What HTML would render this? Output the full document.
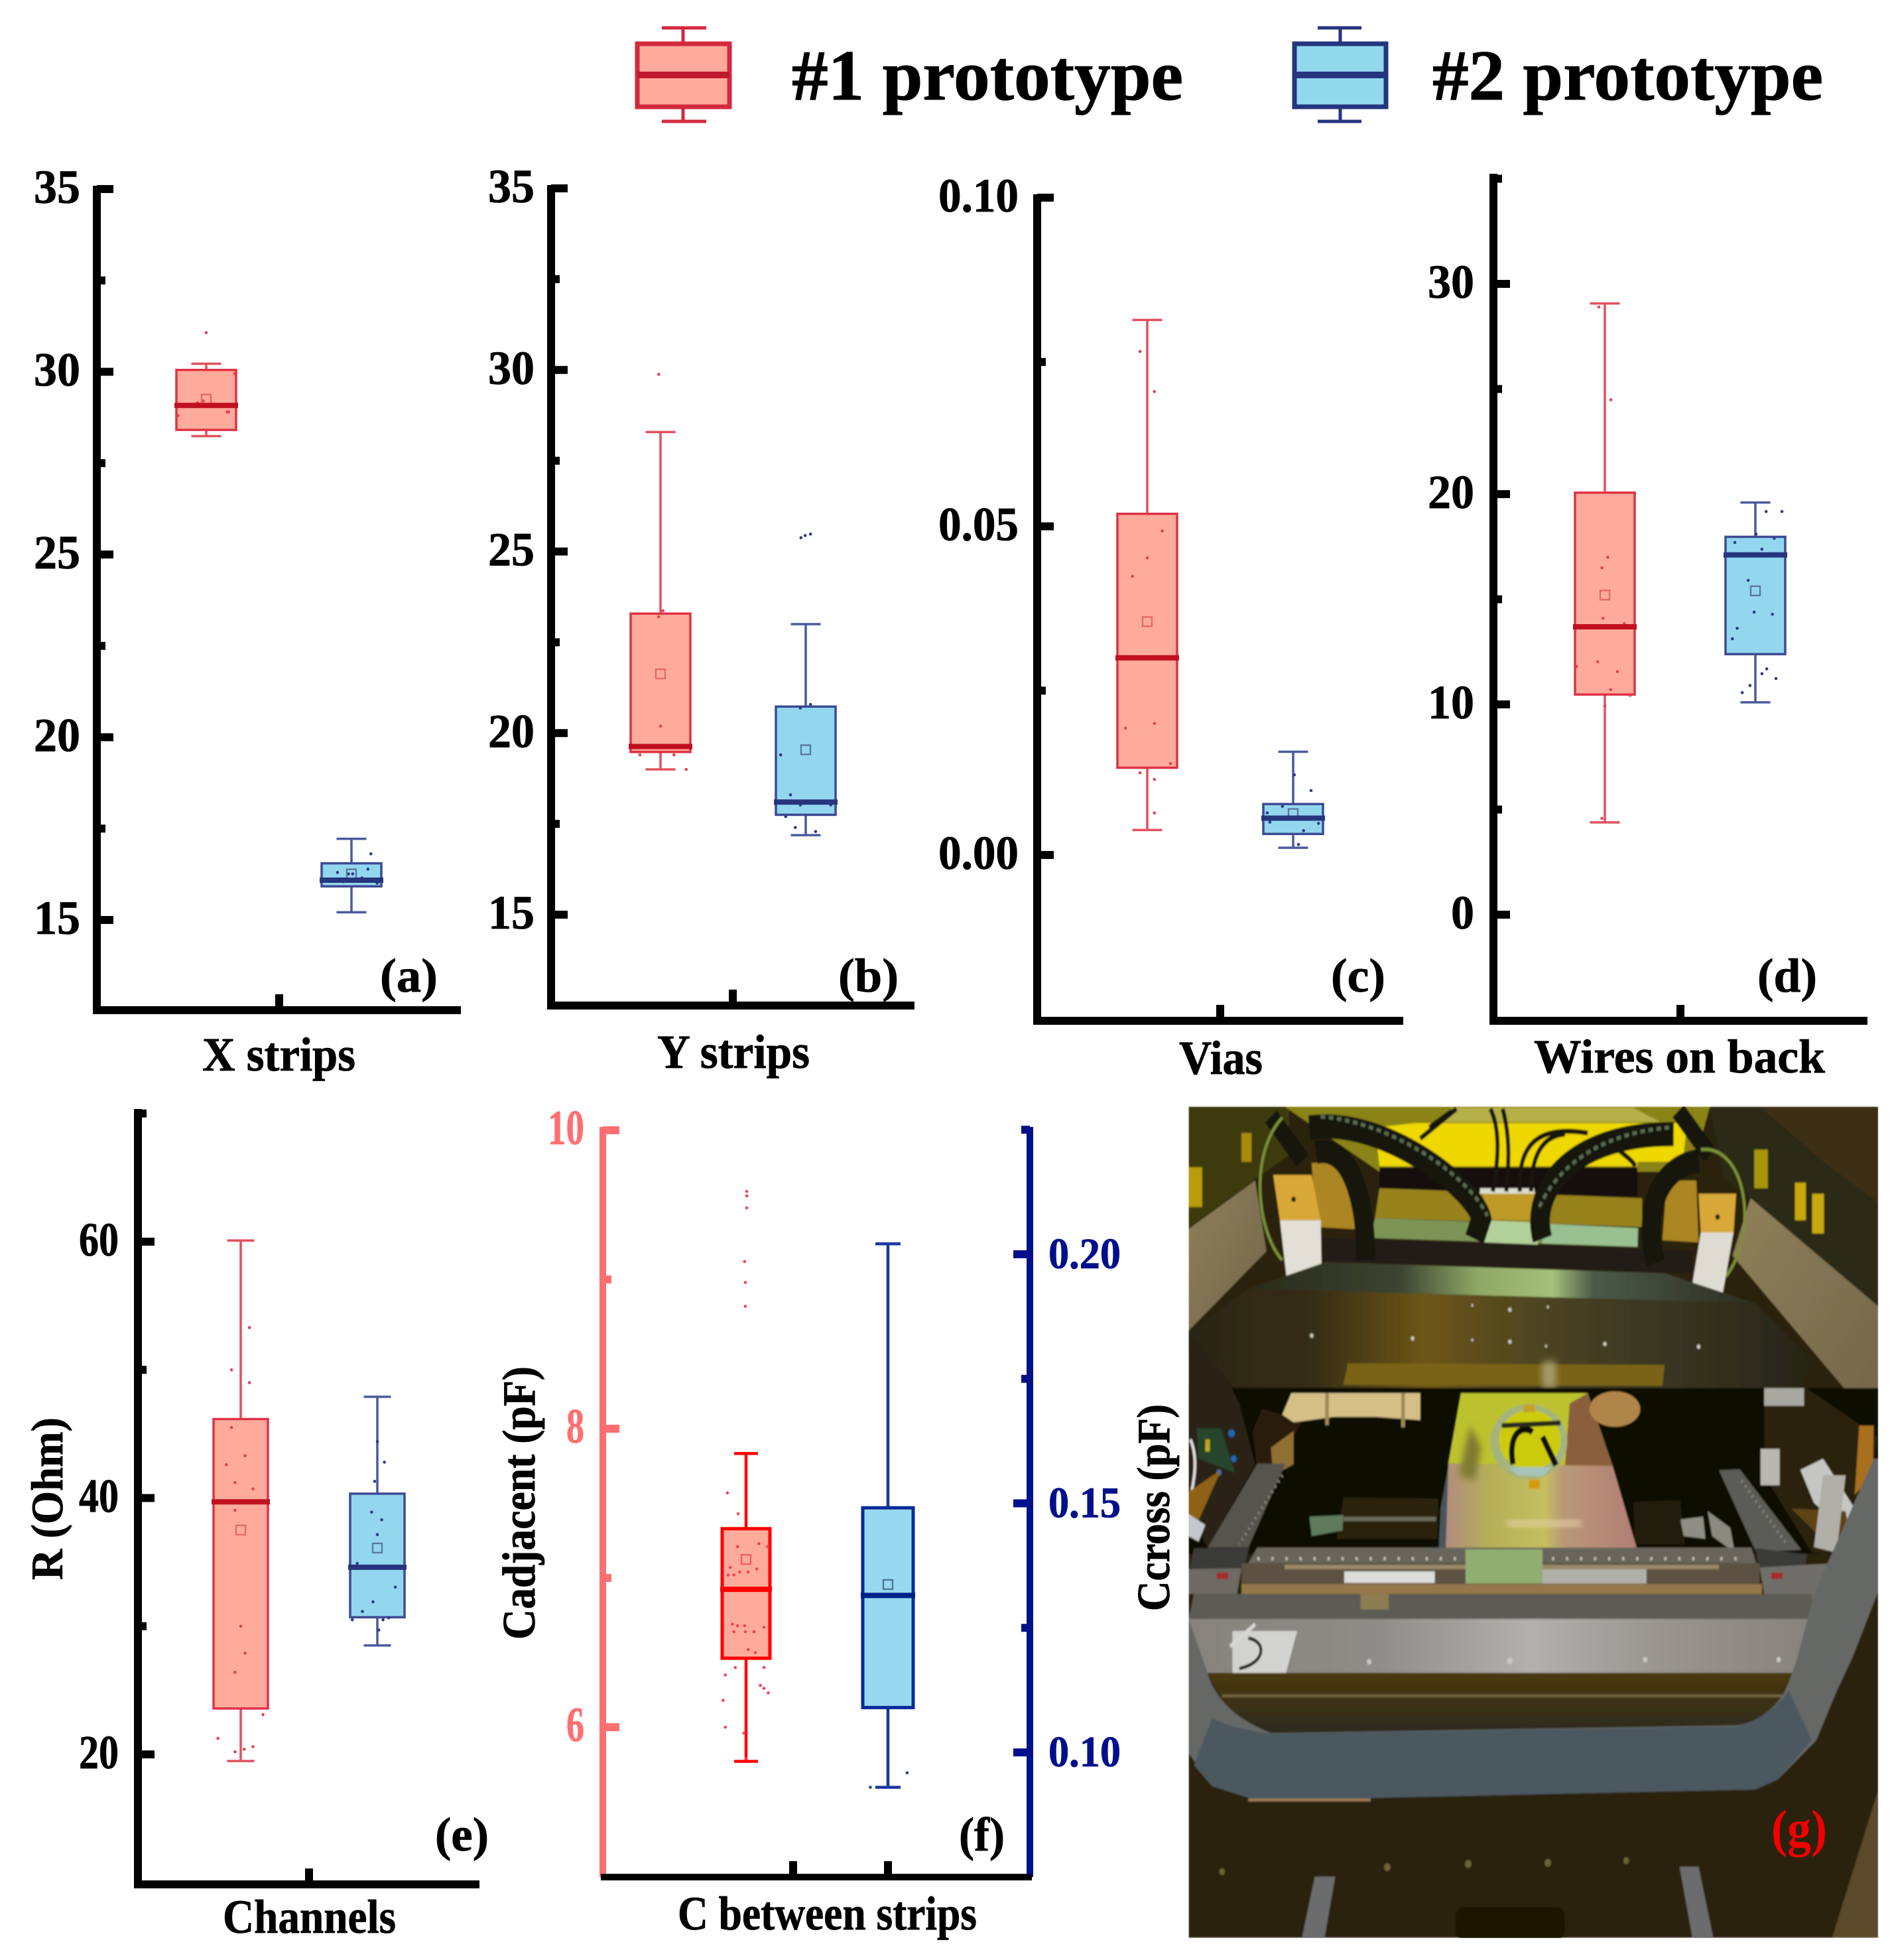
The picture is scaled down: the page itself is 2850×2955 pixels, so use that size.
<!DOCTYPE html>
<html lang="en"><head><meta charset="utf-8"><title>Prototype measurements</title>
<style>html,body{margin:0;padding:0;background:#fff}svg{display:block}text{font-family:"Liberation Serif",serif;font-weight:bold}</style></head>
<body>
<svg id="figure" xmlns="http://www.w3.org/2000/svg" width="2850" height="2955" viewBox="0 0 2850 2955">
<defs>
<filter id="soft" x="-5%" y="-5%" width="110%" height="110%"><feGaussianBlur stdDeviation="1.5"/></filter>
<filter id="soft2" x="-30%" y="-30%" width="160%" height="160%"><feGaussianBlur stdDeviation="7"/></filter>
<linearGradient id="plate" x1="0" x2="1" y1="0" y2="0"><stop offset="0" stop-color="#85837c"/><stop offset=".3" stop-color="#8f8d87"/><stop offset=".55" stop-color="#b2b0ac"/><stop offset=".75" stop-color="#98968f"/><stop offset="1" stop-color="#85837c"/></linearGradient>
<linearGradient id="beam" x1="0" x2="1" y1="0" y2="0"><stop offset="0" stop-color="#2a2616"/><stop offset=".2" stop-color="#352d18"/><stop offset=".38" stop-color="#6e5618"/><stop offset=".5" stop-color="#55491f"/><stop offset=".7" stop-color="#3e3a24"/><stop offset="1" stop-color="#262418"/></linearGradient>
<linearGradient id="board" x1="0" x2="1" y1="0" y2="0"><stop offset="0" stop-color="#b08c80"/><stop offset=".22" stop-color="#b5ae58"/><stop offset=".52" stop-color="#c4bf60"/><stop offset=".62" stop-color="#b89878"/><stop offset="1" stop-color="#b27e74"/></linearGradient>
<linearGradient id="under" x1="0" x2="0" y1="0" y2="1"><stop offset="0" stop-color="#4a380a"/><stop offset=".4" stop-color="#3f3414"/><stop offset="1" stop-color="#2c2a20"/></linearGradient>
<linearGradient id="shine" x1="0" x2="1" y1="0" y2="0"><stop offset="0" stop-color="#2a2a1a"/><stop offset=".3" stop-color="#3c4432"/><stop offset=".45" stop-color="#8ea666"/><stop offset=".6" stop-color="#a6c07a"/><stop offset=".68" stop-color="#4c5a4a"/><stop offset="1" stop-color="#2c2c20"/></linearGradient>
<linearGradient id="wall" x1="0" x2="1" y1="0" y2="1"><stop offset="0" stop-color="#90805a"/><stop offset="1" stop-color="#71654a"/></linearGradient>
</defs>

<g>
<g fill="none" stroke="#d32a3e">
<path d="M1030 42V65M1030 162V183" stroke-width="5"/>
<path d="M998 42H1065M998 183H1065" stroke-width="5"/>
<rect x="961" y="66" width="139" height="95" fill="#ffab9c" stroke-width="7"/>
<path d="M961 113H1100" stroke="#c0182c" stroke-width="10"/>
</g>
<text x="1194" y="150" font-size="108" textLength="590" lengthAdjust="spacingAndGlyphs" stroke="#000" stroke-width="1">#1 prototype</text>
<g fill="none" stroke="#25357f">
<path d="M2021 42V65M2021 162V183" stroke-width="5"/>
<path d="M1987 42H2053M1987 183H2053" stroke-width="5"/>
<rect x="1952" y="66" width="138" height="95" fill="#93d9ec" stroke-width="7"/>
<path d="M1952 113H2090" stroke-width="10"/>
</g>
<text x="2160" y="150" font-size="108" textLength="589" lengthAdjust="spacingAndGlyphs" stroke="#000" stroke-width="1">#2 prototype</text>
</g>

<svg x="1780" y="1650" width="1070" height="1305" viewBox="0 0 1568 1568" preserveAspectRatio="none">
<g filter="url(#soft)">
<rect x="18" y="22" width="1524" height="1506" fill="#2c2008"/>
<!-- top background -->
<polygon points="18,22 240,22 240,110 170,150 18,242" fill="#3d3a10"/>
<rect x="18" y="132" width="30" height="72" fill="#b89c10"/>
<rect x="135" y="70" width="22" height="52" fill="#a88c10"/>
<polygon points="230,22 1170,22 1130,140 440,140" fill="#8a8418"/>
<polygon points="520,52 1120,52 1110,122 1010,122 1010,130 440,130 430,60" fill="#eed800"/>
<polygon points="600,24 1000,24 1060,50 560,50" fill="#b6b048"/>
<polygon points="1170,22 1542,22 1542,384 1260,188 1200,150" fill="#2c2a14"/>
<polygon points="1280,22 1542,22 1542,196 1430,128" fill="#3c2e14"/>
<rect x="1358" y="160" width="24" height="68" fill="#c8a810"/>
<rect x="1396" y="180" width="26" height="72" fill="#c8a810"/>
<rect x="1268" y="100" width="30" height="70" fill="#a89410"/>
<!-- side walls -->
<polygon points="18,244 165,156 190,284 18,428" fill="url(#wall)"/>
<polygon points="1260,188 1542,384 1542,600 1480,545 1220,292" fill="url(#wall)"/>
<!-- centre cross-members -->
<polygon points="440,132 1010,132 1010,186 440,170" fill="#14100a"/>
<polygon points="440,170 1020,188 1020,240 430,224" fill="#97821f"/>
<polygon points="670,176 790,176 790,228 670,226" fill="#bf9a28"/>
<rect x="662" y="170" width="120" height="10" fill="#dcdccc"/>
<polygon points="430,224 1012,242 1010,276 420,260" fill="#7d9456"/>
<polygon points="670,228 790,232 790,272 670,268" fill="#b2d09a"/>
<polygon points="800,234 1010,242 1010,276 800,270" fill="#98c090"/>
<polygon points="310,260 1130,284 1130,324 310,302" fill="#221b14"/>
<!-- side of the posts -->
<polygon points="290,124 380,124 385,244 300,240" fill="#ac8620"/>
<polygon points="1075,156 1140,156 1145,268 1065,264" fill="#ac8620"/>
<!-- cable chains -->
<g fill="none" stroke="#19170f">
<path d="M285 60C450 40 650 170 665 225L650 262" stroke-width="44"/>
<path d="M300 105C380 90 410 200 410 300" stroke-width="42"/>
<path d="M800 262C770 170 870 70 1090 72" stroke-width="44"/>
<path d="M1050 305C1020 210 1060 130 1145 120" stroke-width="42"/>
<path d="M200 40L270 120M1100 30L1170 110" stroke-width="34"/>
<path d="M685 26C705 60 705 110 690 176M712 26C730 80 725 130 720 176M750 176C745 90 790 55 900 70M775 176C775 110 800 75 850 72M530 80L610 26M550 60L600 30M950 90C975 105 1000 120 1005 130" stroke-width="9"/>
</g>
<path d="M310 40C470 50 640 150 678 220M1080 60C930 70 830 130 790 210" fill="none" stroke="#5a6a50" stroke-width="7" stroke-dasharray="10 8"/>
<path d="M225 42C150 110 170 250 225 300M1150 100C1250 90 1280 250 1205 330" fill="none" stroke="#7a9038" stroke-width="6"/>
<!-- posts -->
<polygon points="205,146 290,146 310,228 220,228" fill="#d8a838"/>
<polygon points="220,228 310,228 312,330 235,335" fill="#e2e0d6"/>
<polygon points="1145,180 1228,180 1222,252 1150,252" fill="#d8a838"/>
<polygon points="1150,250 1222,250 1198,362 1130,350" fill="#dedcd2"/>
<circle cx="250" cy="190" r="5" fill="#221a0c"/><circle cx="1187" cy="222" r="5" fill="#221a0c"/>
<!-- shiny plate and main beam -->
<polygon points="150,352 320,304 1070,324 1270,378" fill="url(#shine)"/>
<polygon points="18,432 150,352 1270,378 1400,485 1360,535 120,530 18,470" fill="url(#beam)"/>
<polygon points="370,487 1070,490 1065,528 360,526" fill="#7a6418"/>
<rect x="800" y="484" width="30" height="48" fill="#a49a6a" filter="url(#soft2)"/>
<g fill="#c8c6b8"><circle cx="290" cy="437" r="4"/><circle cx="513" cy="442" r="4"/><circle cx="728" cy="448" r="4"/><circle cx="938" cy="452" r="4"/><circle cx="1145" cy="457" r="4"/><circle cx="728" cy="390" r="4"/><circle cx="645" cy="382" r="2.5"/><circle cx="812" cy="385" r="2.5"/><circle cx="645" cy="445" r="2.5"/><circle cx="808" cy="456" r="2.5"/></g>
<!-- machine bay -->
<rect x="18" y="532" width="1524" height="300" fill="#0d0904"/>
<polygon points="18,432 100,510 130,560 165,670 60,820 18,760" fill="#2b2313"/>
<polygon points="36,605 90,605 120,685 40,660" fill="#27452c"/>
<rect x="55" y="625" width="10" height="22" fill="#c0a818"/>
<circle cx="113" cy="614" r="7" fill="#1e6ab4"/><circle cx="85" cy="685" r="6" fill="#1e6ab4"/><circle cx="118" cy="660" r="6" fill="#1e6ab4"/>
<path d="M22 625C40 660 30 700 22 730" fill="none" stroke="#ddd" stroke-width="6"/>
<polygon points="18,720 90,680 30,790 18,790" fill="#8e6212"/>
<polygon points="18,760 55,780 40,810 18,800" fill="#c4c8cc"/>
<polygon points="160,610 180,570 270,590 210,680 170,680" fill="#2b1c0a"/>
<polygon points="200,640 250,610 250,670 205,690" fill="#8f7030"/>
<polygon points="1290,530 1380,530 1540,620 1530,690 1460,835 1395,830 1290,690" fill="#2c2110"/>
<rect x="1290" y="532" width="88" height="32" fill="#a8a8a0"/>
<rect x="1282" y="642" width="42" height="66" fill="#b8b8b0"/>
<polygon points="1370,680 1420,660 1490,750 1470,790 1400,740" fill="#c6c6c2"/>
<polygon points="1350,750 1470,755 1480,805 1430,815" fill="#5e4214"/>
<polygon points="1500,600 1532,600 1530,690 1490,725" fill="#a8701c"/>
<polygon points="1420,690 1470,690 1450,830 1400,820" fill="#b0b0a8"/>
<polygon points="245,541 530,541 530,590 430,584 340,584 250,594 225,580" fill="#d4bf86"/>
<rect x="320" y="541" width="8" height="58" fill="#9c8a58"/><rect x="488" y="541" width="8" height="62" fill="#9c8a58"/>
<polygon points="360,730 570,732 568,805 345,805" fill="#2a2108"/>
<rect x="360" y="765" width="205" height="8" fill="#6c6a58"/>
<polygon points="1000,738 1105,735 1115,815 1005,815" fill="#201c0c"/>
<polygon points="285,765 360,762 358,790 290,800" fill="#5e7a5c"/>
<polygon points="1105,770 1155,765 1160,805 1112,800" fill="#8e8e86"/>
<polygon points="1165,755 1215,785 1225,830 1175,800" fill="#8a8a80"/>
<polygon points="620,541 900,541 955,673 592,669" fill="#bcc22e"/>
<polygon points="860,560 900,541 955,673 850,673" fill="#8a5e3c"/>
<polygon points="592,669 955,673 1008,821 585,833" fill="url(#board)"/>
<polygon points="575,750 592,672 586,833 570,833" fill="#48545a"/>
<rect x="720" y="772" width="165" height="10" fill="#e6d4a8" filter="url(#soft2)"/>
<polygon points="640,600 665,640 650,700 615,690" fill="#7e7a30" filter="url(#soft2)"/>
<ellipse cx="960" cy="570" rx="56" ry="32" fill="#b0854a"/>
<ellipse cx="770" cy="629" rx="85" ry="68" fill="#a6b47c"/>
<ellipse cx="772" cy="626" rx="68" ry="54" fill="#cccc08"/>
<path d="M735 670C722 610 760 598 778 612M800 620L830 672" fill="none" stroke="#0e0e06" stroke-width="12"/>
<path d="M710 600L840 595" stroke="#2a2a1a" stroke-width="9"/>
<polygon points="725,675 820,675 800,692 745,690" fill="#a6c4b8"/>
<rect x="770" y="698" width="24" height="16" fill="#d49a10"/>
<rect x="758" y="562" width="26" height="14" fill="#c8a028"/>
<!-- rails and brackets -->
<polygon points="170,669 232,669 150,821 60,821" fill="#55544e"/>
<path d="M225 690L130 815" stroke="#8a8a80" stroke-width="6" stroke-dasharray="3 9"/>
<polygon points="1190,681 1236,679 1372,825 1272,829" fill="#5b5b56"/>
<path d="M1240 700L1340 815" stroke="#8a8a80" stroke-width="6" stroke-dasharray="3 9"/>
<polygon points="30,822 152,822 140,857 20,861" fill="#3b3a38"/>
<polygon points="1270,822 1385,833 1380,857 1280,857" fill="#3b3a38"/>
<polygon points="18,860 135,858 125,905 18,905" fill="#6c6a64"/>
<polygon points="1280,857 1430,850 1400,950 1290,905" fill="#706e68"/>
<rect x="80" y="866" width="26" height="12" fill="#a02e2a"/><rect x="1305" y="866" width="26" height="12" fill="#a02e2a"/>
<polygon points="170,821 1262,821 1272,849 150,849" fill="#68665c"/>
<path d="M170 841H1250" stroke="#c4c0ae" stroke-width="6" stroke-dasharray="5 26"/>
<rect x="135" y="849" width="1145" height="38" fill="#5b5142"/>
<rect x="230" y="852" width="960" height="8" fill="#9a8868"/>
<rect x="800" y="860" width="230" height="26" fill="#b0b0a8"/>
<rect x="630" y="824" width="170" height="62" fill="#90ae72"/>
<rect x="362" y="864" width="200" height="21" fill="#dcdcd8"/>
<rect x="135" y="887" width="1150" height="18" fill="#94784c"/>
<polygon points="30,905 1395,905 1398,950 18,950" fill="#5c5b55"/>
<rect x="398" y="905" width="62" height="28" fill="#8e7c52"/>
<rect x="18" y="950" width="1377" height="98" fill="url(#plate)"/>
<polygon points="115,972 258,972 232,1052 115,1052" fill="#d2d2d0"/>
<path d="M150 985C190 990 190 1030 130 1040" fill="none" stroke="#161616" stroke-width="6"/>
<path d="M110 1000L165 960" stroke="#d8d8d8" stroke-width="7"/>
<g fill="#c8c8c4"><circle cx="417" cy="1028" r="5"/><circle cx="728" cy="1026" r="6"/><circle cx="1027" cy="1024" r="5"/><circle cx="1322" cy="1024" r="5"/></g>
<polygon points="60,1048 1360,1048 1340,1095 1300,1125 1230,1143 200,1157 110,1130" fill="url(#under)"/>
<rect x="92" y="1087" width="1240" height="5" fill="#726440"/>
<!-- frame -->
<path d="M18 950L60 1048Q85 1120 200 1157L1230 1143Q1290 1135 1330 1090Q1350 1060 1370 1000L1400 905L1532 660L1542 660L1542 900L1485 1020L1450 1081L1405 1170L1320 1241L1270 1259L170 1279L70 1253L18 1193Z" fill="#666866"/>
<path d="M70 1130Q120 1150 200 1158L1232 1145Q1300 1130 1345 1080L1395 1170L1320 1241L1270 1259L170 1279L70 1253L30 1215Z" fill="#4c5960"/>
<path d="M150 1278H420" stroke="#a07a5c" stroke-width="5"/>
<!-- ground area -->
<polygon points="1440,1528 1542,1260 1542,1528" fill="#5a4a2c"/>
<polygon points="297,1417 342,1417 318,1530 268,1530" fill="#6a6c6e"/>
<polygon points="1103,1399 1145,1399 1178,1530 1132,1530" fill="#6a6c6e"/>
<rect x="608" y="1472" width="242" height="60" rx="18" fill="#1e1206"/>
<g fill="#6e6438"><circle cx="92" cy="1408" r="6"/><circle cx="457" cy="1400" r="7"/><circle cx="636" cy="1394" r="7"/><circle cx="812" cy="1392" r="7"/><circle cx="985" cy="1388" r="6"/></g>
</g>
<rect x="0" y="0" width="18" height="1568" fill="#fff"/>
<rect x="1542" y="0" width="26" height="1568" fill="#fff"/>
<rect x="0" y="0" width="1568" height="22" fill="#fff"/>
<rect x="0" y="1528" width="1568" height="40" fill="#fff"/>
</svg>
<text x="2671" y="2783" font-size="78" fill="#f00000" textLength="84" lengthAdjust="spacingAndGlyphs">(g)</text>

<script>
// Panel (a) X strips
const ticksA = [15, 20, 25, 30, 35];
const minorA = [17.5, 22.5, 27.5, 32.5];
const statsA1 = [28.24, 28.41, 29.08, 30.05, 30.22, 29.25];
const statsA2 = [15.21, 15.92, 16.09, 16.55, 17.22, 16.26];
const pointsA1 = [31.07, 29.95, 28.8, 28.9, 28.9, 29.15, 29.1, 29.1, 29.2];
const jitterA1 = [0, .95, -.95, .7, .75, -.3, .1, .3, -.1];
const pointsA2 = [16.81, 16.3, 16.26, 16.39, 16.05, 16.01, 16.07, 16.26, 16.15];
const jitterA2 = [.65, -.47, .04, .55, -.27, .86, -.88, -.1, .35];
// Panel (b) Y strips
const ticksB = [15, 20, 25, 30, 35];
const minorB = [17.5, 22.5, 27.5, 32.5];
const statsB1 = [19.0, 19.48, 19.63, 23.29, 28.29, 21.63];
const statsB2 = [17.19, 17.75, 18.1, 20.73, 23.0, 19.54];
const pointsB1 = [29.88, 23.37, 23.2, 20.19, 19.4, 19.4, 19.0];
const jitterB1 = [-.06, .08, -.06, 0, -.69, .45, .86];
const pointsB2 = [25.38, 25.44, 25.48, 20.79, 20.69, 19.4, 18.3, 18.02, 18.02, 17.7, 17.4, 17.29];
const jitterB2 = [-.16, -.02, .16, .16, -.18, -.84, -.51, -.18, .84, -.67, -.35, .33];
// Panel (c) Vias
const ticksC = [0, 0.05, 0.10];
const minorC = [0.025, 0.075];
const statsC1 = [.0038, .01327, .03, .0519, .0814, .0355];
const statsC2 = [.0011, .0032, .0056, .00775, .0157, .0063];
const pointsC1 = [.0766, .0705, .0493, .0452, .0424, .0193, .02, .0139, .0125, .0115, .0064];
const jitterC1 = [-.24, .24, .5, 0, -.5, -.73, .24, .78, -.24, .24, .24];
const pointsC2 = [.0122, .0098, .0074, .0064, .005, .0037, .0048, .0016];
const jitterC2 = [.04, .6, -.36, -.87, -.78, .35, .85, .18];
// Panel (d) Wires on back
const ticksD = [0, 10, 20, 30];
const minorD = [5, 15, 25, 35];
const statsD1 = [4.39, 10.47, 13.69, 20.07, 29.07, 15.2];
const statsD2 = [10.1, 12.39, 17.11, 17.97, 19.6, 15.4];
const pointsD1 = [28.9, 24.49, 17.0, 16.5, 14.1, 13.85, 12.03, 11.56, 11.8, 10.7, 10.43, 9.93, 4.58];
const jitterD1 = [-.2, .2, .1, -.1, -.06, .65, -.24, .42, -.95, .2, .85, 0, -.1];
const pointsD2 = [19.17, 19.17, 18.1, 17.7, 17.9, 17.38, 15.9, 14.39, 14.29, 13.62, 13.12, 11.69, 11.46, 11.23, 10.9, 10.56];
const jitterD2 = [.36, .89, .02, -.69, .63, .22, -.24, -.04, .57, -.61, -.77, .38, .22, .69, -.18, -.44];
// Panel (e) Channels
const ticksE = [20, 40, 60];
const minorE = [30, 50, 70];
const statsE1 = [19.48, 23.58, 39.7, 46.16, 60.09, 37.5];
const statsE2 = [28.5, 30.7, 34.6, 40.34, 47.9, 36.1];
const pointsE1 = [53.3, 50.0, 49.0, 45.5, 43.3, 42.6, 41.2, 40.7, 39.05, 30.0, 27.9, 26.4, 23.1, 21.25, 20.2, 20.4, 20.6];
const jitterE1 = [.32, -.34, .32, -.34, .16, -.53, -.21, .45, -.21, 0, .16, -.21, .82, -.84, -.21, .13, .45];
const pointsE2 = [44.4, 42.8, 41.3, 38.9, 38.3, 37.15, 34.9, 33.05, 31.9, 31.15, 30.5, 30.5, 30.65, 29.7];
const jitterE2 = [0, .26, -.1, -.21, .16, 0, -.74, .66, -.16, -.55, -.92, .21, .42, .05];
// Panel (f) C between strips, two value axes
const ticksF = [6, 8, 10];
const minorF = [7, 9];
const ticksFRight = [0.10, 0.15, 0.20];
const minorFRight = [0.125, 0.175, 0.225];
const statsF1 = [5.771, 6.462, 6.924, 7.33, 7.834, 7.124];
const statsF2 = [.093, .109, .1315, .1491, .2021, .1337];
const pointsF1 = [9.59, 9.56, 9.48, 9.12, 8.98, 8.82, 7.57, 7.43, 7.23, 7.21, 7.21, 7.07, 7.02, 7.04, 7.04, 7.06, 7.02, 6.69, 6.68, 6.68, 6.67, 6.64, 6.64, 6.64, 6.52, 6.5, 6.4, 6.35, 6.4, 6.28, 6.26, 6.23, 6.18, 6.0, 5.96, 5.79];
const jitterF1 = [.03, .03, .03, -.06, -.03, -.03, -.78, -.33, .54, .9, -.36, -.66, -.51, -.27, .09, .45, -.75, -.57, -.36, -.06, .75, -.51, -.03, .33, .09, .39, -.45, -.87, .75, .6, .75, .93, -.96, -.87, -.09, 0];
const pointsF2 = [.0959, .093];
const jitterF2 = [.76, -.7];

const NS = 'http://www.w3.org/2000/svg';
const root = document.getElementById('figure');
const linear = (v0, p0, v1, p1) => v => p0 + (v - v0) * (p1 - p0) / (v1 - v0);
const red = {fill: '#ffab9c', stroke: '#dd3345', median: '#c0101f', whisker: '#e2505f', dot: '#e8404f', mean: '#e66a66'};
const blue = {fill: '#93d7ee', stroke: '#3c4a94', median: '#27357e', whisker: '#4a5a9e', dot: '#2c3a8a', mean: '#5a7a9a'};
const redBold = {fill: '#ffab9c', stroke: '#ff0000', median: '#ff0000', whisker: '#ff0000', dot: '#f84050', mean: '#f06060'};
const blueBold = {fill: '#98d8f0', stroke: '#0c2a9a', median: '#00208a', whisker: '#1a389e', dot: '#2c3a8a', mean: '#4a7a90'};

function make(tag, attrs, name, parent) {
  const el = document.createElementNS(NS, tag);
  for (const k in attrs) el.setAttribute(k, attrs[k]);
  
  
  parent.appendChild(el);
  return el;
}
function line(x1, y1, x2, y2, color, w, name, parent) {
  return make('line', {x1, y1, x2, y2, stroke: color, 'stroke-width': w}, name, parent);
}
function label(str, x, y, size, len, anchor, color, name, parent, rotate) {
  const attrs = {x, y, 'font-size': size, textLength: len, lengthAdjust: 'spacingAndGlyphs', 'text-anchor': anchor, fill: color, stroke: color, 'stroke-width': 0.8};
  if (rotate) attrs.transform = 'rotate(-90 ' + x + ' ' + y + ')';
  const t = make('text', attrs, name, parent);
  t.textContent = str;
  return t;
}
function valueAxis(g, x, yTop, yBottom, y, ticks, minor, dir, color, fmt, labelX, fontSize, labelLen, anchor, side, weight) {
  line(x, yTop - 5, x, yBottom, color, weight, side + '-axis-line', g);
  ticks.forEach(t => {
    line(x, y(t), x + dir * 25, y(t), color, 12, side + '-major-tick', g);
    const w = typeof labelLen === 'function' ? labelLen(t) : labelLen;
    label(fmt(t), labelX, y(t) + 21, fontSize, w, anchor, color, side + '-tick-label', g);
  });
  minor.forEach(t => line(x, y(t), x + dir * 13, y(t), color, 12, side + '-minor-tick', g));
}
function box(g, cx, half, y, s, pts, jit, c, sw, name) {
  const grp = make('g', {}, name, g);
  const cap = half / 2;
  line(cx, y(s[3]), cx, y(s[4]), c.whisker, sw.w, 'upper-whisker', grp);
  line(cx, y(s[1]), cx, y(s[0]), c.whisker, sw.w, 'lower-whisker', grp);
  line(cx - cap, y(s[4]), cx + cap, y(s[4]), c.whisker, sw.w, 'upper-cap', grp);
  line(cx - cap, y(s[0]), cx + cap, y(s[0]), c.whisker, sw.w, 'lower-cap', grp);
  make('rect', {x: cx - half, y: y(s[3]), width: 2 * half, height: y(s[1]) - y(s[3]), fill: c.fill, stroke: c.stroke, 'stroke-width': sw.b}, 'iqr-box', grp);
  pts.forEach((v, i) => {
    make('circle', {cx: cx + jit[i] * half, cy: y(v), r: 2.3, fill: c.dot}, 'data-point', grp);
  });
  make('rect', {x: cx - 7, y: y(s[5]) - 7, width: 14, height: 14, fill: 'none', stroke: c.mean, 'stroke-width': 2.4}, 'mean-marker', grp);
  line(cx - half - 3, y(s[2]), cx + half + 3, y(s[2]), c.median, sw.m, 'median-line', grp);
}
const thin = {w: 3.5, b: 3.5, m: 8};
const bold = {w: 4.5, b: 5, m: 8};

function standardPanel(o) {
  const g = make('g', {}, o.name, root);
  const y = linear(o.v0, o.p0, o.v1, o.p1);
  valueAxis(g, o.axisX, o.top, o.bottom, y, o.ticks, o.minor, 1, '#000', o.fmt, o.labelX, o.font, o.labelLen, 'end', 'y', 12);
  line(o.axisX - 6, o.bottom, o.right, o.bottom, '#000', 12, 'x-axis-line', g);
  line(o.tickX, o.bottom, o.tickX, o.bottom - 24, '#000', 12, 'x-tick', g);
  box(g, o.c1, o.half, y, o.s1, o.p1s, o.j1, red, thin, 'box-prototype-1');
  box(g, o.c2, o.half, y, o.s2, o.p2s, o.j2, blue, thin, 'box-prototype-2');
  label(o.title, o.titleX, o.titleY, 72, o.titleLen, 'start', '#000', 'x-axis-title', g);
  label(o.tag, o.tagX, o.tagY, 72, o.tagLen, 'start', '#000', 'panel-label', g);
  return g;
}
const int = t => String(t);
const two = t => t.toFixed(2);

standardPanel({name:'panel-a-x-strips', axisX:146, top:285, bottom:1523, right:695, v0:15, p0:1387, v1:35, p1:285,
  ticks:ticksA, minor:minorA, fmt:int, labelX:121, font:72, labelLen:70, tickX:421,
  c1:311, c2:530, half:45, s1:statsA1, s2:statsA2, p1s:pointsA1, j1:jitterA1, p2s:pointsA2, j2:jitterA2,
  title:'X strips', titleX:305, titleY:1614, titleLen:231, tag:'(a)', tagX:573, tagY:1495, tagLen:87});
standardPanel({name:'panel-b-y-strips', axisX:831, top:284, bottom:1516, right:1379, v0:15, p0:1379, v1:35, p1:284,
  ticks:ticksB, minor:minorB, fmt:int, labelX:806, font:72, labelLen:70, tickX:1105,
  c1:996, c2:1215, half:45, s1:statsB1, s2:statsB2, p1s:pointsB1, j1:jitterB1, p2s:pointsB2, j2:jitterB2,
  title:'Y strips', titleX:991, titleY:1610, titleLen:230, tag:'(b)', tagX:1264, tagY:1495, tagLen:91});
standardPanel({name:'panel-c-vias', axisX:1564, top:298, bottom:1539, right:2116, v0:0, p0:1289, v1:0.1, p1:298,
  ticks:ticksC, minor:minorC, fmt:two, labelX:1536, font:72, labelLen:121, tickX:1840,
  c1:1730, c2:1950, half:45, s1:statsC1, s2:statsC2, p1s:pointsC1, j1:jitterC1, p2s:pointsC2, j2:jitterC2,
  title:'Vias', titleX:1778, titleY:1619, titleLen:126, tag:'(c)', tagX:2007, tagY:1495, tagLen:82});
standardPanel({name:'panel-d-wires-on-back', axisX:2252, top:267, bottom:1539, right:2816, v0:0, p0:1379, v1:30, p1:428,
  ticks:ticksD, minor:minorD, fmt:int, labelX:2223, font:72, labelLen:t => t === 0 ? 35 : 70, tickX:2534,
  c1:2420, c2:2647, half:45, s1:statsD1, s2:statsD2, p1s:pointsD1, j1:jitterD1, p2s:pointsD2, j2:jitterD2,
  title:'Wires on back', titleX:2313, titleY:1617, titleLen:439, tag:'(d)', tagX:2650, tagY:1495, tagLen:90});
const panelE = standardPanel({name:'panel-e-channels', axisX:208, top:1677, bottom:2841, right:723, v0:20, p0:2645, v1:60, p1:1872,
  ticks:ticksE, minor:minorE, fmt:int, labelX:179, font:72, labelLen:60, tickX:466,
  c1:363, c2:569, half:41, s1:statsE1, s2:statsE2, p1s:pointsE1, j1:jitterE1, p2s:pointsE2, j2:jitterE2,
  title:'Channels', titleX:336, titleY:2914, titleLen:261, tag:'(e)', tagX:656, tagY:2790, tagLen:81});
label('R (Ohm)', 94, 2382, 68, 245, 'start', '#000', 'y-axis-title', panelE, true);

// Panel (f): left axis for prototype 1, right axis for prototype 2
const panelF = make('g', {}, 'panel-f-c-between-strips', root);
const yFLeft = linear(6, 2604, 10, 1704);
const yFRight = linear(0.10, 2642, 0.20, 1891);
valueAxis(panelF, 909, 1704, 2830, yFLeft, ticksF, minorF, 1, '#ff6f72', int, 881, 74, t => t === 10 ? 55 : 27, 'end', 'left-y', 10);
valueAxis(panelF, 1553, 1704, 2830, yFRight, ticksFRight, minorFRight, -1, '#00108a', two, 1690, 66, 109, 'end', 'right-y', 10);
line(906, 2830, 1556, 2830, '#000', 10, 'x-axis-line', panelF);
line(1196, 2830, 1196, 2806, '#000', 12, 'x-tick-1', panelF);
line(1339, 2830, 1339, 2806, '#000', 12, 'x-tick-2', panelF);
box(panelF, 1125, 36, yFLeft, statsF1, pointsF1, jitterF1, redBold, bold, 'box-prototype-1');
box(panelF, 1339, 38, yFRight, statsF2, pointsF2, jitterF2, blueBold, bold, 'box-prototype-2');
label('C between strips', 1022, 2909, 72, 451, 'start', '#000', 'x-axis-title', panelF);
label('Cadjacent (pF)', 806, 2472, 70, 412, 'start', '#000', 'left-y-axis-title', panelF, true);
label('Ccross (pF)', 1763, 2429, 70, 312, 'start', '#000', 'right-y-axis-title', panelF, true);
label('(f)', 1446, 2790, 72, 69, 'start', '#000', 'panel-label', panelF);
</script>
</svg>
</body></html>
